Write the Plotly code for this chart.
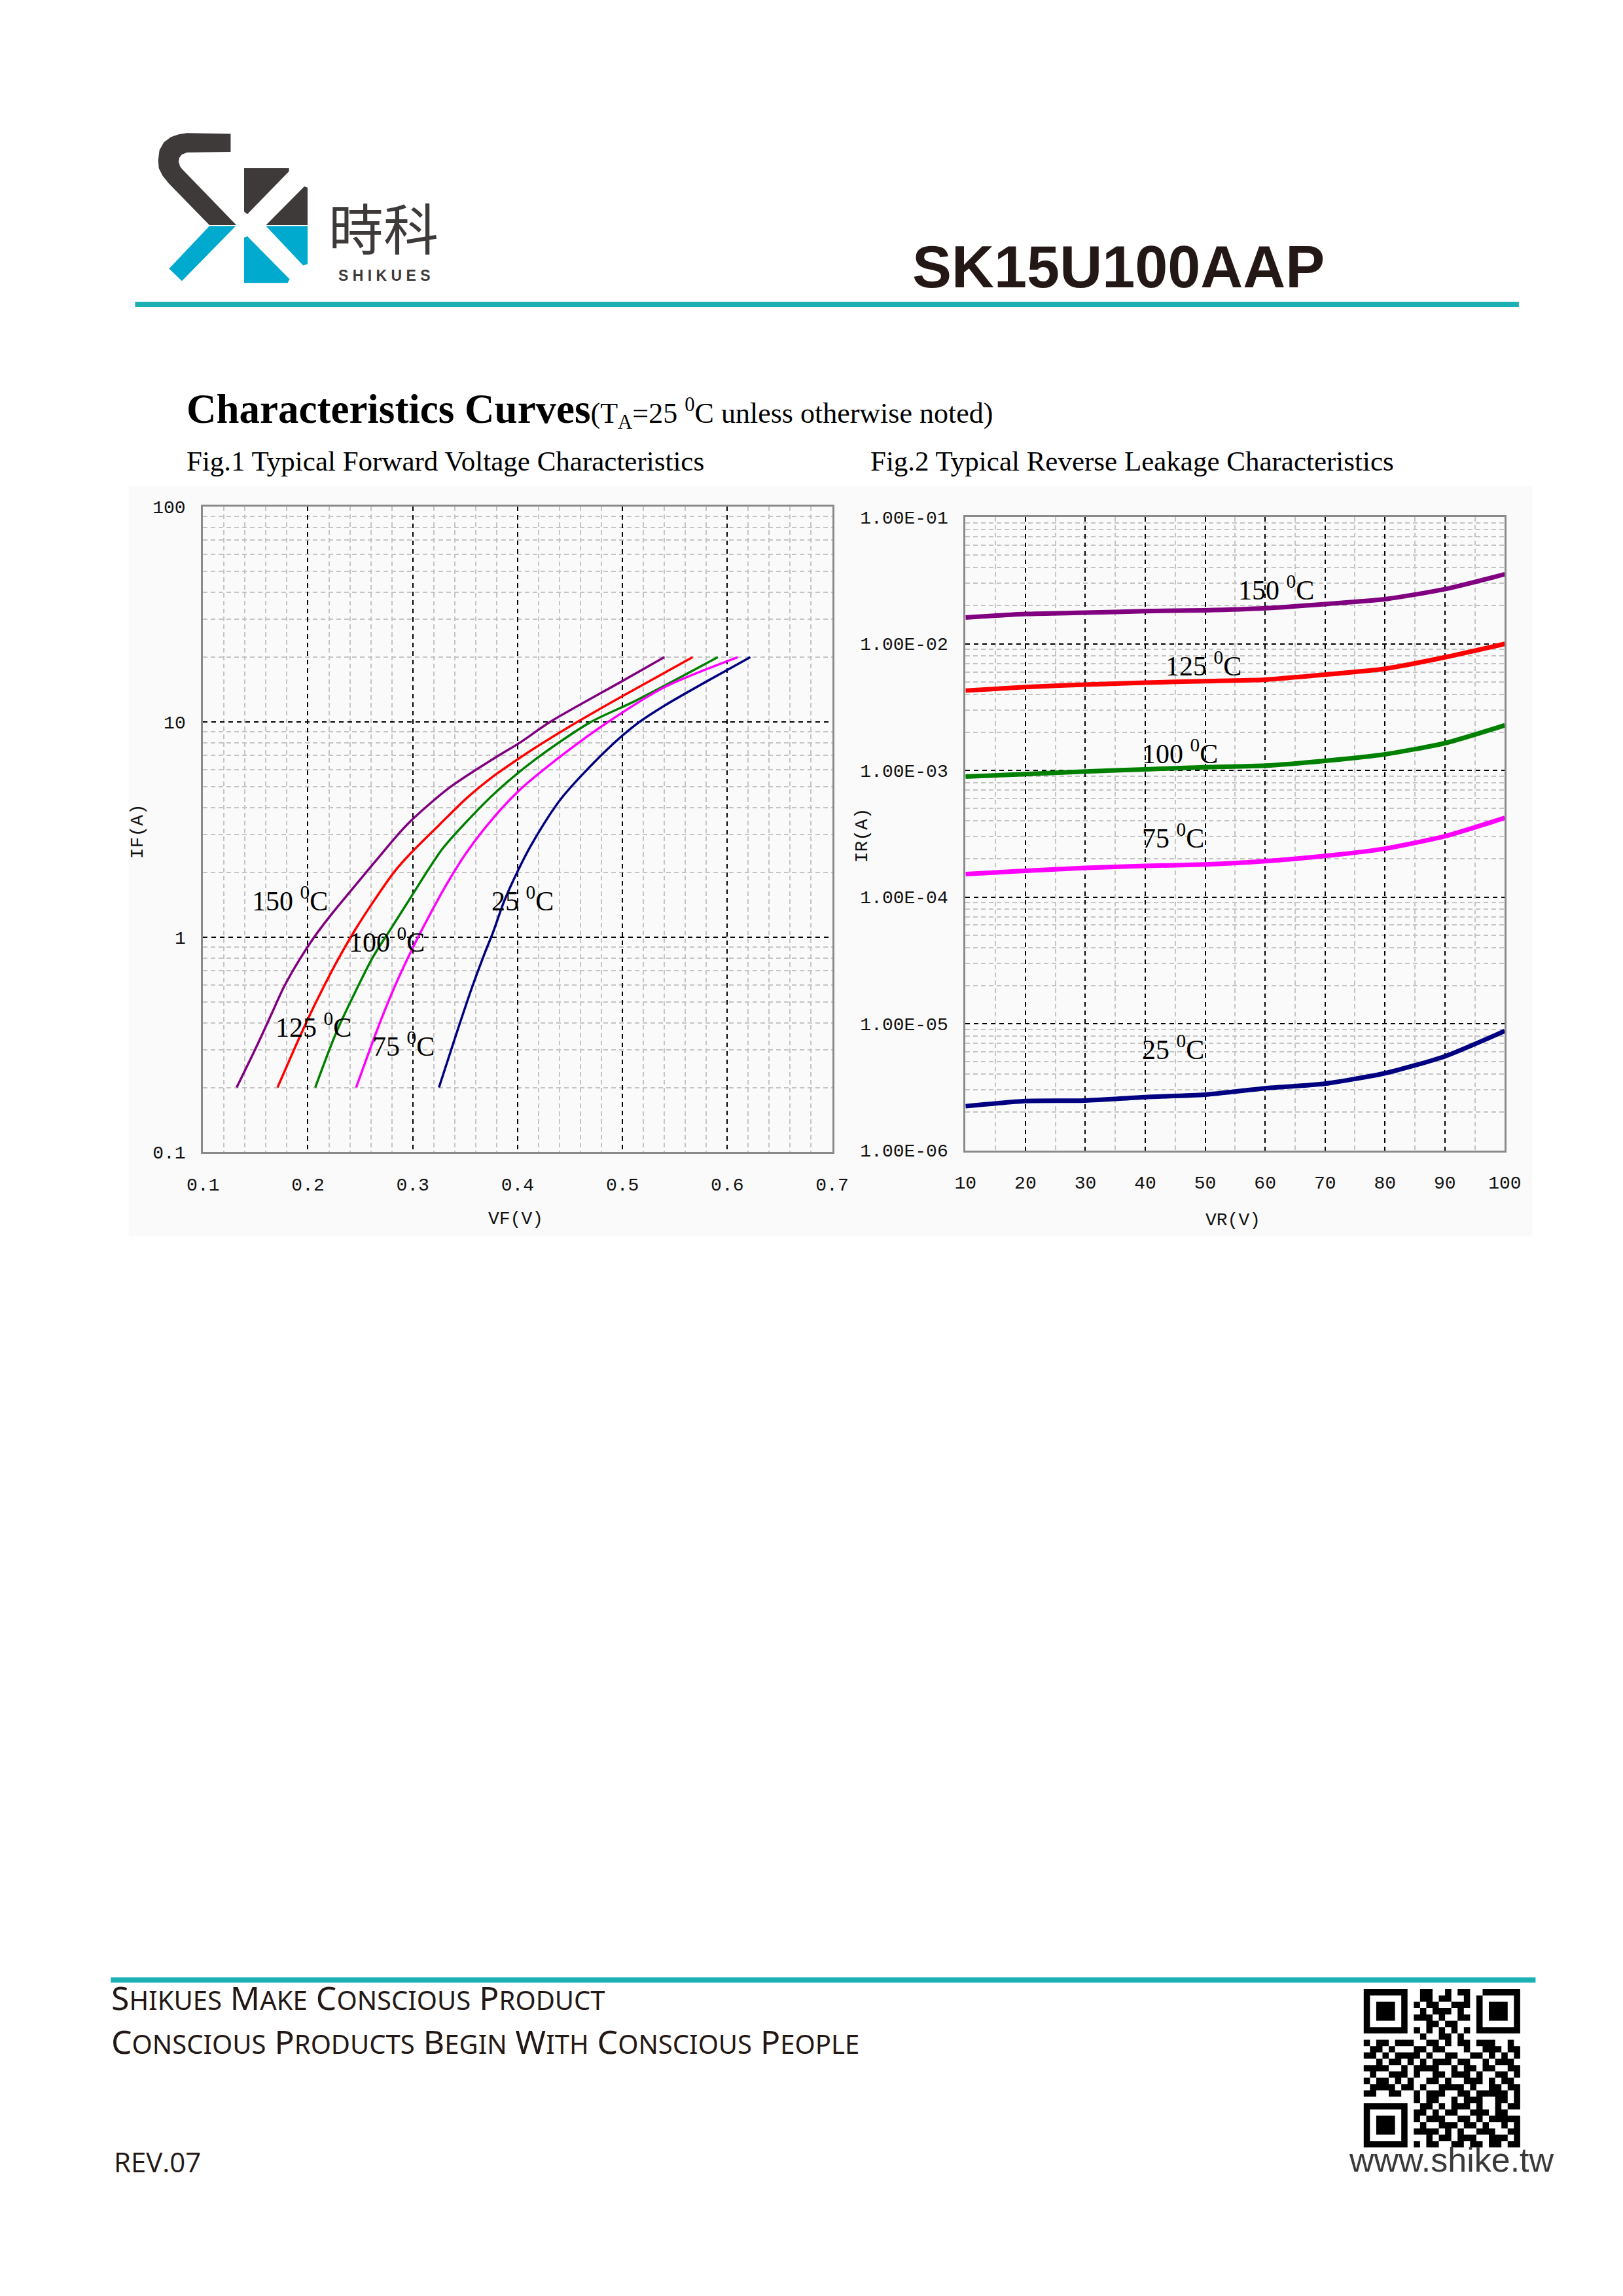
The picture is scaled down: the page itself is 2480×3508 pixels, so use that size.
import numpy as np
import plotly.graph_objects as go

# Fig.1 forward voltage curves (VF in V, IF in A)
vf_150 = [0.132, 0.151, 0.166, 0.177, 0.192, 0.206, 0.221, 0.240, 0.264, 0.295, 0.335, 0.376, 0.402, 0.431, 0.499, 0.540]
if_150 = [0.20, 0.31, 0.447, 0.585, 0.786, 1.00, 1.25, 1.62, 2.24, 3.35, 4.95, 6.7, 8.0, 10.0, 15.4, 20.0]
vf_125 = [0.171, 0.192, 0.207, 0.227, 0.245, 0.264, 0.282, 0.298, 0.326, 0.352, 0.376, 0.398, 0.417, 0.457, 0.499, 0.567]
if_125 = [0.20, 0.342, 0.49, 0.76, 1.08, 1.50, 2.0, 2.45, 3.35, 4.45, 5.55, 6.6, 7.6, 10.0, 13.1, 20.0]
vf_100 = [0.207, 0.227, 0.245, 0.262, 0.280, 0.297, 0.328, 0.354, 0.380, 0.417, 0.469, 0.512, 0.591]
if_100 = [0.20, 0.36, 0.554, 0.807, 1.11, 1.50, 2.56, 3.55, 4.75, 6.7, 9.94, 12.5, 20.0]
vf_75 = [0.246, 0.267, 0.282, 0.299, 0.317, 0.332, 0.351, 0.376, 0.401, 0.444, 0.485, 0.540, 0.610]
if_75 = [0.20, 0.381, 0.577, 0.871, 1.29, 1.75, 2.46, 3.54, 4.78, 7.1, 9.9, 14.5, 20.0]
vf_25 = [0.325, 0.341, 0.356, 0.369, 0.3765, 0.387, 0.398, 0.413, 0.442, 0.485, 0.515, 0.540, 0.580, 0.622]
if_25 = [0.20, 0.348, 0.574, 0.85, 1.05, 1.46, 1.93, 2.68, 4.43, 7.41, 9.9, 11.9, 15.4, 20.0]

# Fig.2 reverse leakage curves (VR in V, IR in A)
vr = [10, 20, 30, 40, 50, 60, 70, 80, 90, 100]
ir_150 = [0.0161, 0.0172, 0.0176, 0.0181, 0.0184, 0.0191, 0.0206, 0.0225, 0.0270, 0.0354]
ir_125 = [0.00427, 0.00455, 0.00476, 0.00493, 0.00507, 0.00521, 0.00570, 0.00635, 0.00782, 0.00998]
ir_100 = [0.000893, 0.000935, 0.00098, 0.00102, 0.00106, 0.00109, 0.00119, 0.00134, 0.00164, 0.00227]
ir_75 = [0.000152, 0.000161, 0.000170, 0.000176, 0.000181, 0.000192, 0.000211, 0.000241, 0.000302, 0.000422]
ir_25 = [2.23e-6, 2.45e-6, 2.47e-6, 2.63e-6, 2.75e-6, 3.09e-6, 3.36e-6, 4.06e-6, 5.52e-6, 8.75e-6]

temps = ["150", "125", "100", "75", "25"]
colors = ["#800080", "#ff0000", "#008000", "#ff00ff", "#000080"]

# label positions (data units)
fig1_label_x = [0.183, 0.205, 0.275, 0.291, 0.405]
fig1_label_y = [1.50, 0.39, 0.966, 0.317, 1.50]
fig2_label_x = [61.8, 49.7, 45.8, 44.6, 44.6]
fig2_label_y = [0.0277, 0.00695, 0.00141, 0.000302, 6.49e-6]

fig1_ticks = [0.1, 1, 10, 100]
fig1_ticktext = ["0.1", "1", "10", "100"]
fig2_ticks = [1e-6, 1e-5, 1e-4, 1e-3, 1e-2, 1e-1]
fig2_ticktext = ["1.00E-06", "1.00E-05", "1.00E-04", "1.00E-03", "1.00E-02", "1.00E-01"]

qr_rows = [
    "1111111001100101100111111",
    "1000001001101100101000001",
    "1011101010110011101011101",
    "1011101001011101001011101",
    "1011101011101001101011101",
    "1000001000110110001000001",
    "1111111010101010101111111",
    "0000000001001101000000000",
    "1011011100110101101110010",
    "0110100011011000100111011",
    "1101011110100110011010101",
    "0010110101011101100101110",
    "1111001011110010110110011",
    "0100111010011011101001101",
    "1011010100110100111010110",
    "0111101101001111010011011",
    "1100110010111001101111101",
    "0000000010110010111001101",
    "1111111001101011101001011",
    "1000001011010110011101100",
    "1011101010111001101011111",
    "1011101001001110110100101",
    "1011101011110101001110011",
    "1000001000101101110011101",
    "1111111010110011011011011",
]

W, H = 2480, 3508


def px(x):
    return x / W


def py(y):
    return 1 - y / H


def poly(points):
    return "M " + " L ".join(f"{px(x):.5f},{py(y):.5f}" for x, y in points) + " Z"


def smallcaps(text, small):
    out = []
    for word in text.split(" "):
        out.append(word[0] + f"<span style='font-size:{small}px'>{word[1:].upper()}</span>")
    return " ".join(out)


tick_font = dict(family="Liberation Mono", size=28, color="#111111")
label_font = dict(family="Liberation Serif", size=42, color="black")

fig = go.Figure()

for vf, i_f, c in zip([vf_150, vf_125, vf_100, vf_75, vf_25], [if_150, if_125, if_100, if_75, if_25], colors):
    fig.add_trace(go.Scatter(x=vf, y=i_f, mode="lines", line=dict(color=c, width=3.5, shape="spline", smoothing=0.8),
                             xaxis="x", yaxis="y", hoverinfo="skip"))

for ir, c in zip([ir_150, ir_125, ir_100, ir_75, ir_25], colors):
    fig.add_trace(go.Scatter(x=vr, y=ir, mode="lines", line=dict(color=c, width=7, shape="spline", smoothing=0.6),
                             xaxis="x2", yaxis="y2", hoverinfo="skip"))

major = dict(showgrid=True, gridcolor="black", griddash="7px,6px", gridwidth=2, showline=True, mirror=True,
             linecolor="#8a8a8a", linewidth=3, ticks="", tickfont=tick_font, zeroline=False)
minor_grid = dict(showgrid=True, gridcolor="#c4c4c4", griddash="7px,5px", gridwidth=2)


def log_minor(lo, hi):
    return [m * 10.0 ** e for e in range(lo, hi) for m in range(2, 10)]


fig.update_layout(
    width=W, height=H, margin=dict(l=0, r=0, t=0, b=0),
    paper_bgcolor="white", plot_bgcolor="white", showlegend=False,
    xaxis=dict(domain=[px(283), px(1264)], range=[0.1, 0.7], anchor="y", dtick=0.1, tick0=0.1,
               tickformat=".1f", ticklabelstandoff=22,
               minor=dict(dtick=0.02, tick0=0.1, **minor_grid), **major),
    yaxis=dict(domain=[py(1755), py(760)], type="log", range=[-1, 2], anchor="x", tickmode="array",
               tickvals=fig1_ticks, ticktext=fig1_ticktext, ticklabelstandoff=18,
               minor=dict(tickmode="array", tickvals=log_minor(-1, 2), **minor_grid), **major),
    xaxis2=dict(domain=[px(1472), px(2313)], range=[10, 100], anchor="y2", dtick=10, tick0=10,
                ticklabelstandoff=22, minor=dict(dtick=5, tick0=10, **minor_grid), **major),
    yaxis2=dict(domain=[py(1752), py(776)], type="log", range=[-6, -1], anchor="x2", tickmode="array",
                tickvals=fig2_ticks, ticktext=fig2_ticktext, ticklabelstandoff=18,
                minor=dict(tickmode="array", tickvals=log_minor(-6, -1), **minor_grid), **major),
)

ann = []
for t, x, y in zip(temps, fig1_label_x, fig1_label_y):
    ann.append(dict(x=x, y=np.log10(y), xref="x", yref="y", text=f"{t} <sup>0</sup>C", showarrow=False,
                    font=label_font))
for t, x, y in zip(temps, fig2_label_x, fig2_label_y):
    ann.append(dict(x=x, y=np.log10(y), xref="x2", yref="y2", text=f"{t} <sup>0</sup>C", showarrow=False,
                    font=label_font))


def page_text(x, y, text, font, xanchor="left", yanchor="middle", angle=0):
    ann.append(dict(x=px(x), y=py(y), xref="paper", yref="paper", text=text, showarrow=False, font=font,
                    xanchor=xanchor, yanchor=yanchor, textangle=angle))


axis_font = dict(family="Liberation Mono", size=28, color="#111111")
page_text(182, 1260, "IF(A)", axis_font, xanchor="center", angle=-90)
page_text(771, 1858, "VF(V)", axis_font, xanchor="center")
page_text(1311, 1267, "IR(A)", axis_font, xanchor="center", angle=-90)
page_text(1889, 1860, "VR(V)", axis_font, xanchor="center")

page_text(1710, 390, "<b>SK15U100AAP</b>", dict(family="Liberation Sans", size=90, color="#231815"),
          xanchor="center")
page_text(564, 327, "時科", dict(family="Noto Sans CJK TC", size=84, color="#3e3a39"), xanchor="center")
page_text(566, 404, "<b>S H I K U E S</b>", dict(family="Liberation Sans", size=23, color="#3e3a39"),
          xanchor="center")

page_text(255, 610, "<b>Characteristics Curves</b><span style='font-size:44px'>(T<sub>A</sub>=25 "
                    "<sup>0</sup>C unless otherwise noted)</span>",
          dict(family="Liberation Serif", size=63, color="black"))
cap_font = dict(family="Liberation Serif", size=43, color="black")
page_text(255, 690, "Fig.1 Typical Forward Voltage Characteristics", cap_font)
page_text(1322, 690, "Fig.2 Typical Reverse Leakage Characteristics", cap_font)

foot_font = dict(family="Noto Sans", size=50, color="#231815")
page_text(138, 3058, smallcaps("Shikues Make Conscious Product", 40), foot_font)
page_text(138, 3126, smallcaps("Conscious Products Begin With Conscious People", 40), foot_font)
page_text(142, 3311, "REV.07", dict(family="Open Sans", size=42, color="#231815"))
page_text(2230, 3308, "www.shike.tw", dict(family="Liberation Sans", size=52, color="#3a3a3a"),
          xanchor="center")

fig.update_layout(annotations=ann)

shapes = [
    dict(type="rect", xref="paper", yref="paper", x0=px(167), x1=px(2356), y0=py(1885), y1=py(729),
         fillcolor="#fafafa", line=dict(width=0), layer="below"),
    dict(type="line", xref="paper", yref="paper", x0=px(177), x1=px(2335), y0=py(448), y1=py(448),
         line=dict(color="#1bb1b4", width=8)),
    dict(type="line", xref="paper", yref="paper", x0=px(139), x1=px(2361), y0=py(3031), y1=py(3031),
         line=dict(color="#1bb1b4", width=8)),
]

dark, blue = "#3e3a39", "#00a9ce"
logo = [
    ([(326, 185), (326, 213), (258, 214), (250, 217), (246, 222), (245, 228), (247, 235), (250, 239),
      (335, 326), (293, 326), (230, 262), (220, 250), (214, 238), (213, 226), (215, 210), (222, 198),
      (233, 190), (245, 186), (258, 184)], dark),
    ([(293, 327), (334, 327), (250, 412), (230, 393)], blue),
    ([(347, 238), (417, 238), (417, 243), (352, 309), (347, 305)], dark),
    ([(441, 266), (446, 268), (446, 326), (381, 326)], dark),
    ([(381, 327), (446, 327), (446, 386), (439, 388)], blue),
    ([(347, 345), (352, 343), (418, 409), (415, 415), (347, 415)], blue),
]
for pts, col in logo:
    shapes.append(dict(type="path", xref="paper", yref="paper", path=poly(pts), fillcolor=col,
                       line=dict(width=0)))

# QR code
qx0, qy0, cell = 2093, 3045, 244 / 25
qr_path = []
for r, row in enumerate(qr_rows):
    for c, v in enumerate(row):
        if v == "1":
            x0, y0 = qx0 + c * cell, qy0 + r * cell
            qr_path.append(poly([(x0, y0), (x0 + cell, y0), (x0 + cell, y0 + cell), (x0, y0 + cell)]))
shapes.append(dict(type="path", xref="paper", yref="paper", path=" ".join(qr_path), fillcolor="black",
                   line=dict(width=0)))

fig.update_layout(shapes=shapes)

fig.write_html("out.html")
